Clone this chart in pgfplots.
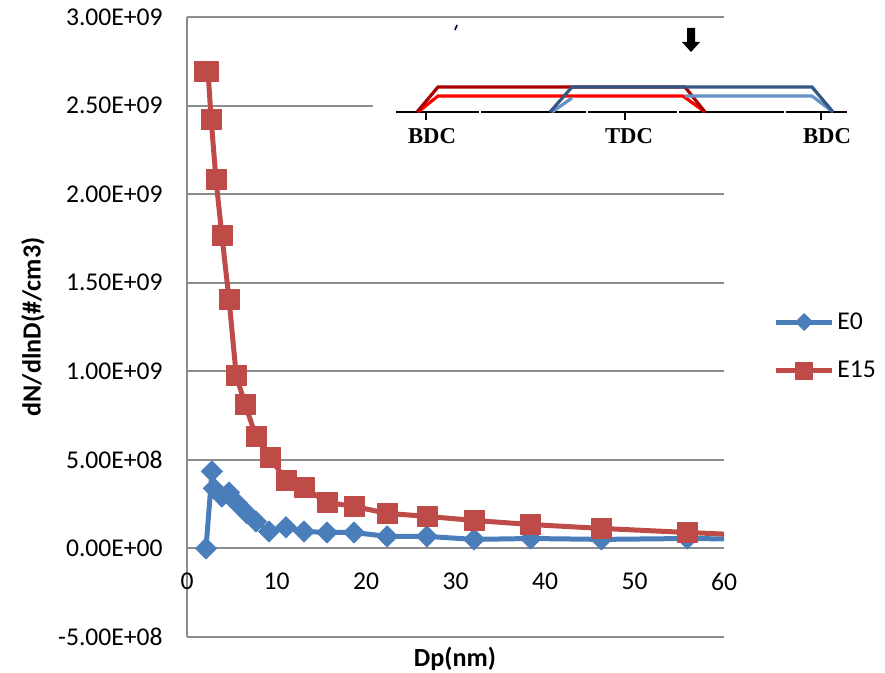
\documentclass[border=0pt]{standalone}
\usepackage{fontspec}
\setmainfont{Carlito}
\newfontfamily\timesf{Liberation Serif}
\usepackage{pgfplots}
\pgfplotsset{compat=1.18}
\definecolor{sblue}{HTML}{4A7EBB}
\definecolor{sred}{HTML}{BE4B48}
\definecolor{gridg}{HTML}{8C8C8C}
\pgfplotstableread{
x y
2.12 0
2.79 4.35e8
3.0 3.39e8
3.9 2.93e8
4.7 3.16e8
5.6 2.54e8
6.7 1.98e8
7.7 1.52e8
9.16 0.96e8
11.06 1.19e8
13.07 0.96e8
15.64 0.90e8
18.66 0.90e8
22.35 0.68e8
26.8 0.68e8
32.07 0.51e8
38.4 0.56e8
46.3 0.51e8
55.9 0.56e8
67.3 0.50e8
}\tableEzero
\pgfplotstableread{
x y
1.9 2.692e9
2.35 2.692e9
2.7 2.421e9
3.24 2.082e9
3.9 1.766e9
4.7 1.405e9
5.5 0.976e9
6.5 0.813e9
7.7 0.632e9
9.27 0.514e9
11.06 0.384e9
13.07 0.344e9
15.64 0.26e9
18.66 0.237e9
22.35 0.198e9
26.8 0.181e9
32.07 0.158e9
38.4 0.135e9
46.3 0.113e9
55.9 0.09e9
67.3 0.065e9
}\tableEfifteen
\begin{document}
\begin{tikzpicture}[x=0.75pt,y=-0.75pt]
\path[use as bounding box] (0,0) rectangle (885,673);
\begin{axis}[
  at={(140.25pt,-477.75pt)}, anchor=south west,
  scale only axis, width=402.75pt, height=465pt,
  xmin=0, xmax=60, ymin=-5e8, ymax=3e9,
  axis x line=middle, axis y line=left,
  hide obscured x ticks=false,
  axis line style={draw=gridg,line width=1.5pt,-},
  x axis line style={draw=gridg,line width=1.5pt,-},
  ytick={-5e8,0,5e8,1e9,1.5e9,2e9,2.5e9,3e9},
  yticklabels={-5.00E+08,0.00E+00,5.00E+08,1.00E+09,1.50E+09,2.00E+09,2.50E+09,3.00E+09},
  xtick={0,10,20,30,40,50,60},
  xticklabels={0,10,20,30,40,50,60},
  major tick length=0pt,
  ymajorgrids, grid style={draw=gridg,line width=1.5pt},
  tick label style={font=\fontsize{19.2}{21}\selectfont},
  xticklabel style={yshift=-15pt},
  yticklabel style={xshift=-14.75pt},
  /pgf/number format/assume math mode=true,
  scaled y ticks=false,
  every axis plot/.append style={line width=3.75pt},
  legend style={at={(1.092,0.469)},anchor=west,draw=none,fill=none,
    font=\fontsize{19.2}{21}\selectfont,row sep=18.4pt,inner sep=0pt,
    /tikz/every even column/.style={column sep=0pt}},
  legend cell align=left,
  legend image code/.code={\draw[#1,mark size=6.4pt,mark repeat=2,mark phase=2] plot coordinates {(0pt,0pt) (21pt,0pt) (42pt,0pt)};},
]
\addplot[color=sblue,mark=diamond*,mark size=8pt,mark options={xscale=1.33,draw=sblue,fill=sblue,solid,line width=0.5pt},line join=round] table[x=x,y=y] {\tableEzero};
\addlegendentry{E0}
\addplot[color=sred,mark=square*,mark size=7.5pt,mark options={draw=sred,fill=sred,solid,line width=0.5pt},line join=round] table[x=x,y=y] {\tableEfifteen};
\addlegendentry{E15}
\end{axis}
% axis titles
\node[font=\bfseries\fontsize{19.6}{21}\selectfont,rotate=90] at (33,327) {dN/dlnD(\#/cm3)};
\node[font=\bfseries\fontsize{19.6}{21}\selectfont] at (455,659) {Dp(nm)};
% inset picture
\fill[white] (373,22) rectangle (860,155);
\draw[black,line width=1.5pt] (396,112) -- (479,112) (481,112) -- (586,112) (588,112) -- (677,112) (679,112) -- (784,112) (786,112) -- (847,112);
\draw[black,line width=1.4pt] (426,112) -- (426,120) (625,112) -- (625,120) (821,112) -- (821,120);
\draw[red,line width=2.4pt] (418,112) -- (438,96) -- (683,96) -- (705,112);
\draw[black!10!red!75!black,line width=2.4pt] (417,112) -- (438,87) -- (685,87) -- (705,112);
\draw[sblue!85!white,line width=2.4pt] (552,112) -- (572,98) (685,96) -- (812,96) -- (833,112);
\draw[sblue!70!black,line width=2.4pt] (550,112) -- (572,87) -- (812,87) -- (833,112);
\fill[black] (687,28) rectangle (695,42) (682,42) -- (700,42) -- (691,52) -- cycle;
\draw[black!70!blue,line width=1.2pt] (457,25) -- (455,30);
\node[font=\timesf\bfseries\fontsize{17}{18}\selectfont] at (432,136) {BDC};
\node[font=\timesf\bfseries\fontsize{17}{18}\selectfont] at (629,136) {TDC};
\node[font=\timesf\bfseries\fontsize{17}{18}\selectfont] at (827,136) {BDC};
\end{tikzpicture}
\end{document}
